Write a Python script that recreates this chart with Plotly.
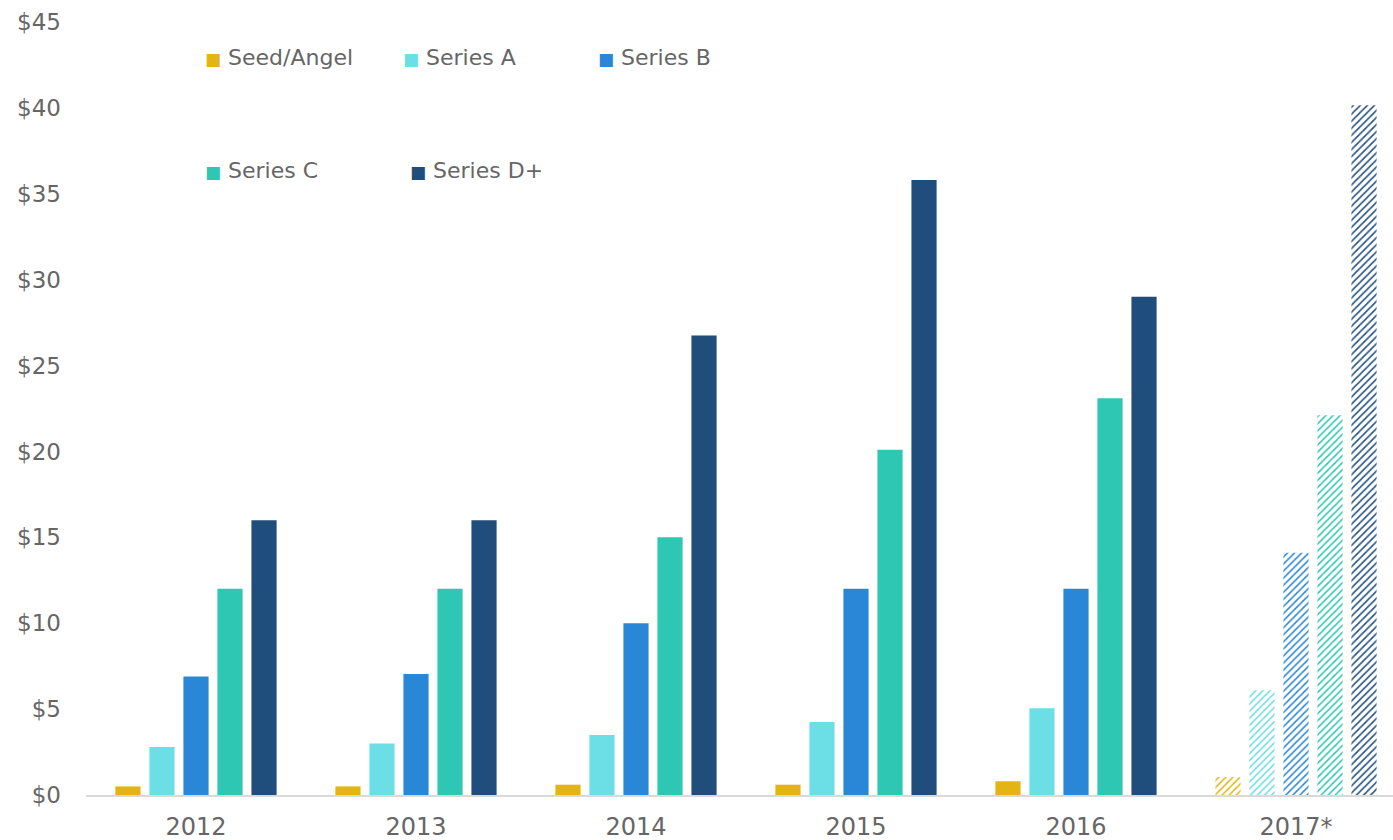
import plotly.graph_objects as go

# Funding by stage, $B
years = ["2012", "2013", "2014", "2015", "2016", "2017*"]
seed_angel = [0.5, 0.5, 0.6, 0.6, 0.8, 1.05]
series_a = [2.8, 3.0, 3.5, 4.25, 5.05, 6.1]
series_b = [6.9, 7.05, 10.0, 12.0, 12.0, 14.1]
series_c = [12.0, 12.0, 15.0, 20.1, 23.1, 22.1]
series_d = [16.0, 16.0, 26.75, 35.8, 29.0, 40.15]

names = ["Seed/Angel", "Series A", "Series B", "Series C", "Series D+"]
values = [seed_angel, series_a, series_b, series_c, series_d]
colors = ["#E2B515", "#6CDEE6", "#2A86D6", "#2DC7B4", "#1F4E7C"]

y_ticks = [0, 5, 10, 15, 20, 25, 30, 35, 40, 45]
y_tick_text = [f"${v}" for v in y_ticks]

FONT = "DejaVu Sans"
GREY = "#666666"

fig = go.Figure()
# the last year is a projection, drawn hatched
projected = [y.endswith("*") for y in years]
for name, vals, col in zip(names, values, colors):
    fig.add_trace(go.Bar(
        x=years, y=vals, name=name,
        marker=dict(
            color=col,
            line=dict(width=0),
            pattern=dict(
                shape=["/" if p else "" for p in projected],
                fgcolor=col,
                bgcolor="white",
                fillmode="replace",
                size=5,
                solidity=0.3,
            ),
        ),
        showlegend=False,
    ))

# legend built as text labels with coloured squares
legend_pos = [(203, 58), (401, 58), (596, 58), (203, 170), (408, 170)]
W, H = 1393, 840
for (px, py), name, col in zip(legend_pos, names, colors):
    fig.add_annotation(
        xref="paper", yref="paper",
        x=(px - 86) / (W - 86), y=(795 - py) / (795 - 22),
        xanchor="left", yanchor="middle", showarrow=False,
        text=f"<span style='color:{col};font-size:17px'>■</span> {name}",
        font=dict(family=FONT, size=22, color=GREY),
    )

fig.update_layout(
    width=W, height=H,
    margin=dict(l=86, r=0, t=22, b=45),
    paper_bgcolor="white", plot_bgcolor="white",
    barmode="group", bargap=0.227, bargroupgap=0.26,
    xaxis=dict(
        range=[-0.5, -0.5 + (W - 86) / 220],
        showline=True, linecolor="#D9D9D9", linewidth=1.5,
        showgrid=False, ticks="", ticklabelstandoff=9,
        tickfont=dict(family=FONT, size=24, color=GREY),
    ),
    yaxis=dict(
        range=[0, 45], tickvals=y_ticks, ticktext=y_tick_text,
        showgrid=False, zeroline=False, showline=False,
        ticklabelstandoff=24,
        tickfont=dict(family=FONT, size=23, color=GREY),
    ),
)

fig.write_html("out.html")
